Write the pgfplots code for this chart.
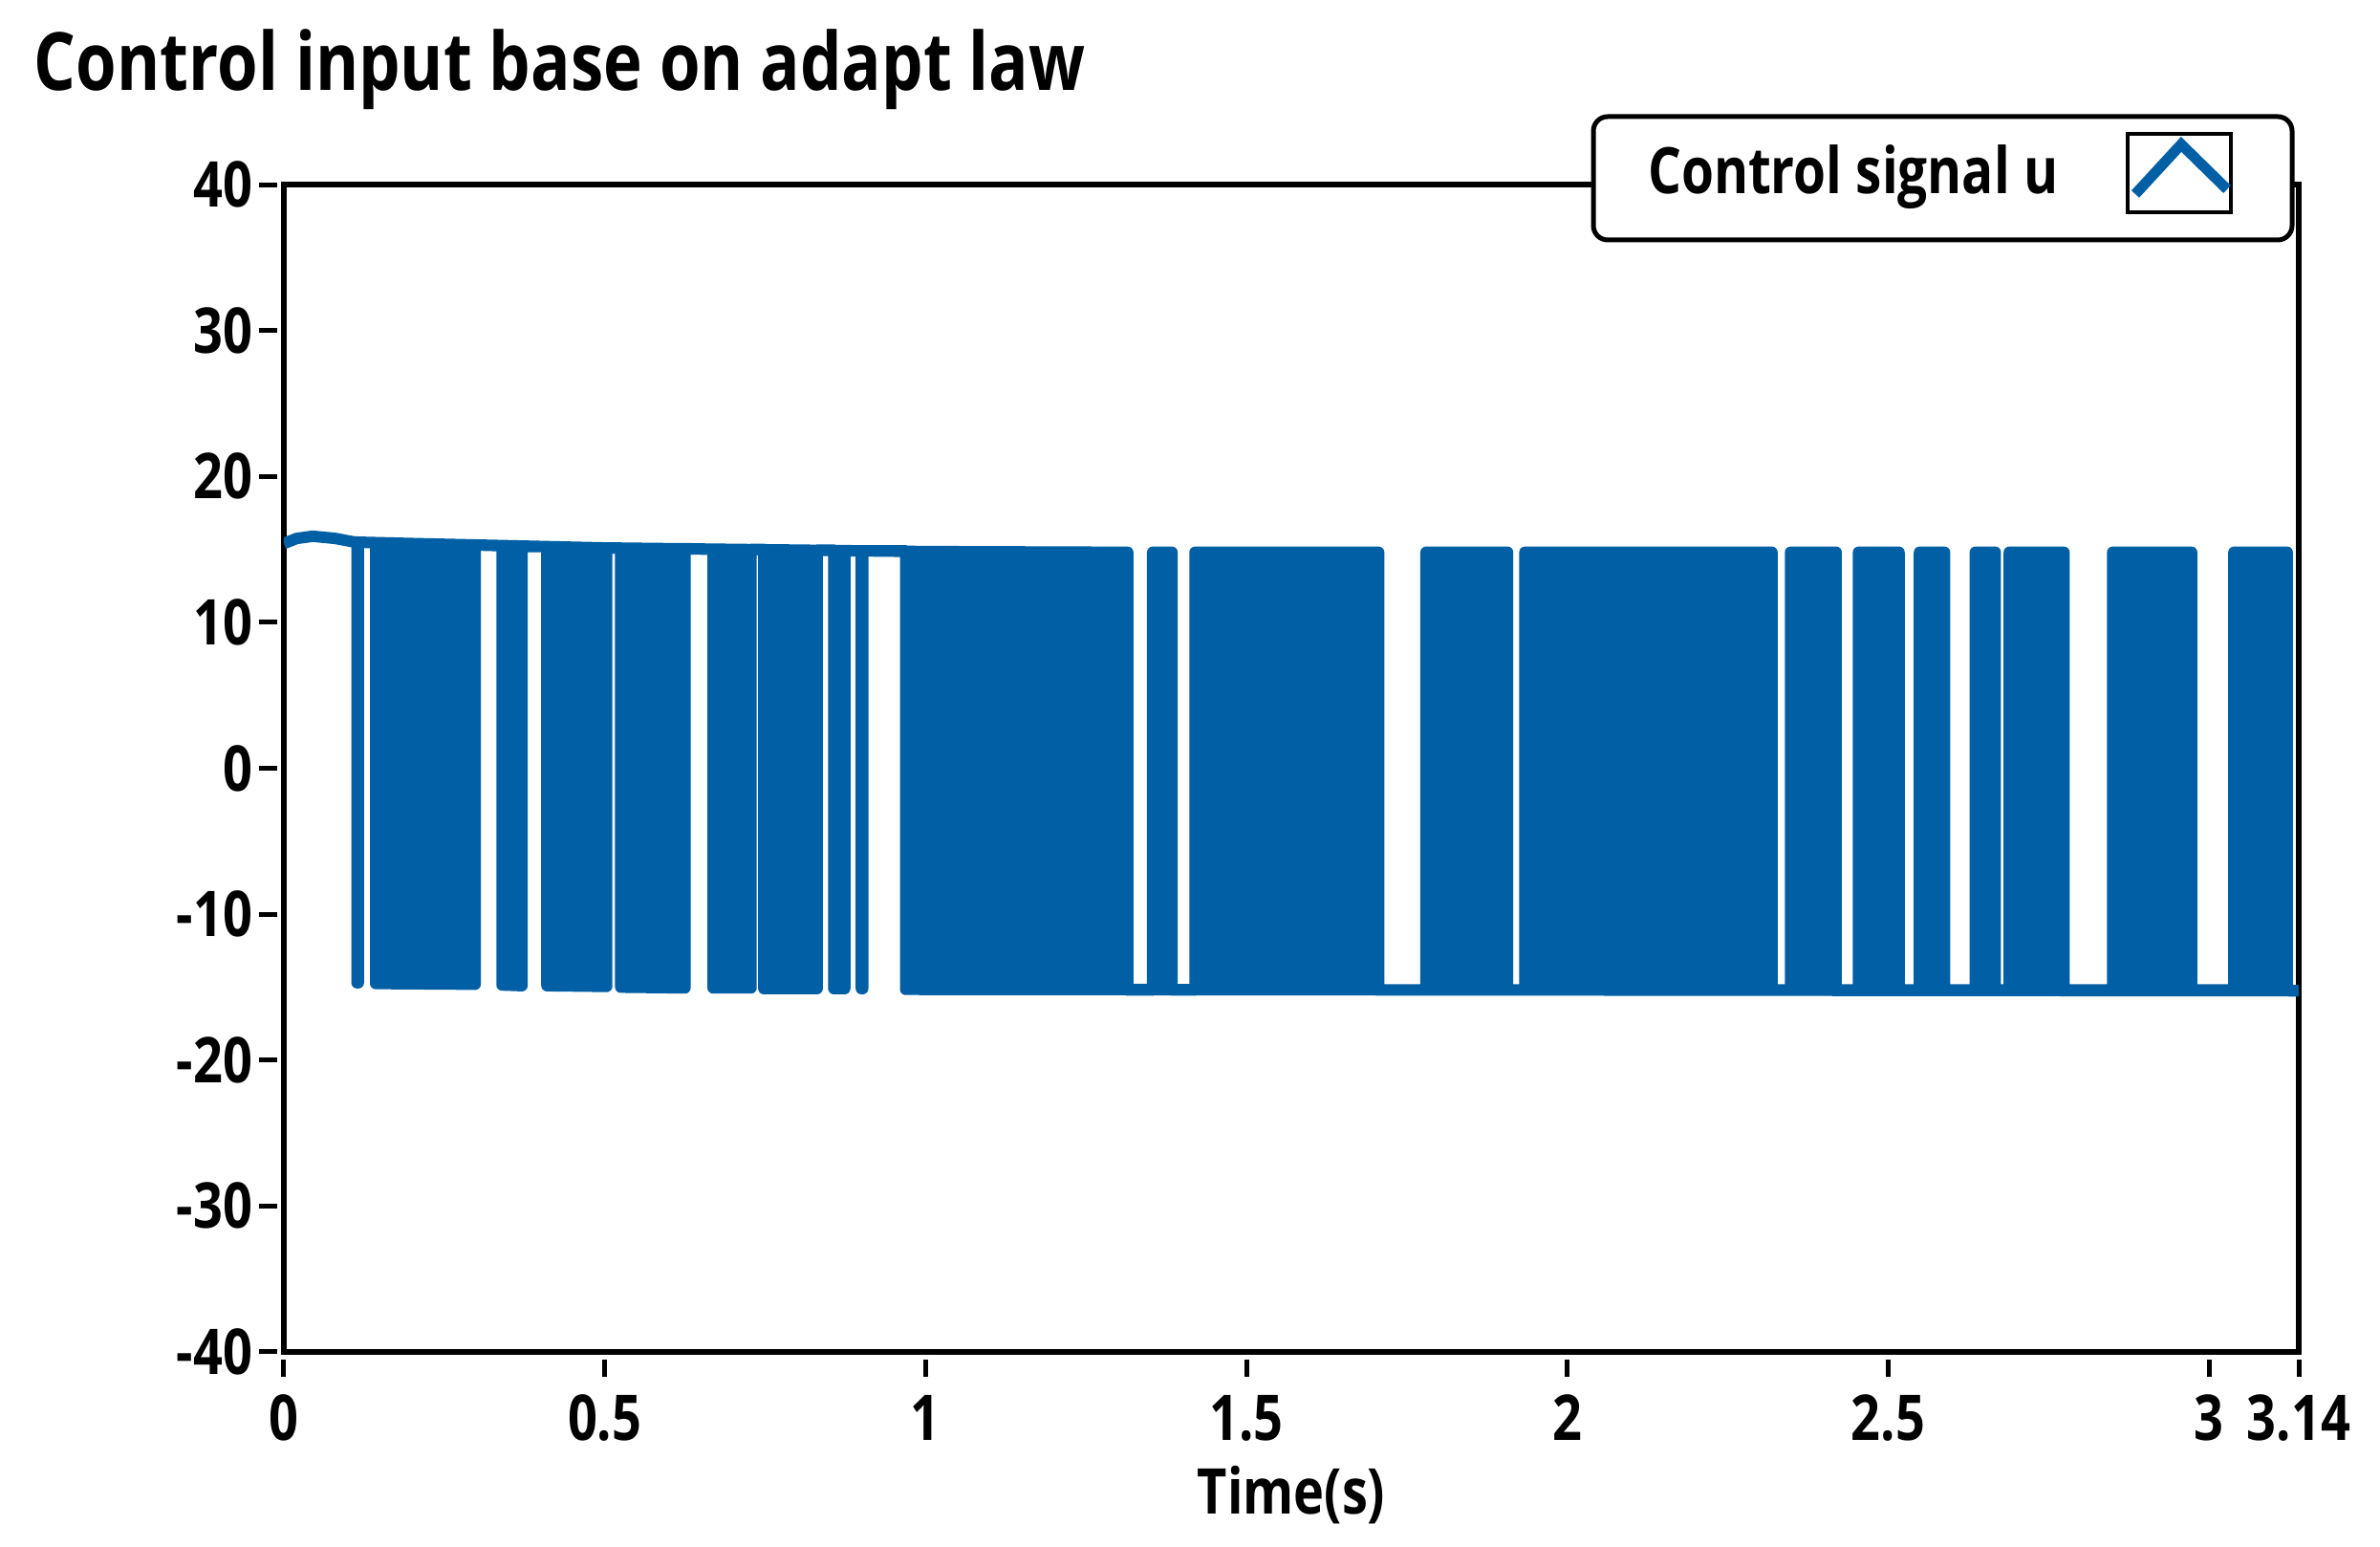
\documentclass[border=0pt]{standalone}
\usepackage{fontspec}
\setmainfont{Open Sans}[FakeStretch=0.82]
\usepackage{pgfplots}
\pgfplotsset{compat=1.18}
\definecolor{ublue}{RGB}{0,95,165}

\begin{document}
\begin{tikzpicture}
\begin{axis}[
  scale only axis, width=421.6pt, height=244.2pt,
  at={(0,0)}, anchor=south west,
  xmin=0, xmax=3.14, ymin=-40, ymax=40,
  xtick={0,0.5,1,1.5,2,2.5,3,3.14},
  ytick={-40,-30,-20,-10,0,10,20,30,40},
  xtick pos=bottom, ytick pos=left,
  tick align=outside, major tick length=3.7pt,
  tick style={black, line width=1pt},
  xtick style={yshift=-1.6pt}, ytick style={xshift=-1.4pt},
  axis line style={black, line width=1.1pt},
  /pgf/number format/assume math mode=true,
  ticklabel style={font=\fontsize{13.2}{15}\selectfont\bfseries, inner sep=0pt},
  xticklabel shift=5.1pt, yticklabel shift=2.7pt,
  xlabel={Time(s)},
  xlabel style={font=\fontsize{13.2}{15}\selectfont\bfseries,
    at={(axis description cs:0.5,0)}, anchor=base, yshift=-34pt, inner sep=0pt},
]
% upper edge left to right, then lower edge back right to left
\addplot[draw=ublue, fill=ublue, line width=2.4pt, line join=round] coordinates {
 (0,15.4) (0.02,15.75) (0.045,15.9) (0.08,15.75) (0.11,15.5) (0.2,15.4)
 (0.35,15.25) (0.5,15.1) (0.7,15.0) (1.0,14.85)
 (1.315,14.8) (1.315,-15.2) (1.354,-15.2) (1.354,14.8)
 (1.384,14.8) (1.384,-15.2) (1.420,-15.2) (1.420,14.8)
 (1.706,14.8) (1.706,-15.2) (1.780,-15.2) (1.780,14.8)
 (1.907,14.8) (1.907,-15.2) (1.934,-15.2) (1.934,14.8)
 (2.319,14.8) (2.319,-15.2) (2.348,-15.2) (2.348,14.8)
 (2.419,14.8) (2.419,-15.2) (2.454,-15.2) (2.454,14.8)
 (2.517,14.8) (2.517,-15.2) (2.549,-15.2) (2.549,14.8)
 (2.588,14.8) (2.588,-15.2) (2.636,-15.2) (2.636,14.8)
 (2.667,14.8) (2.667,-15.2) (2.689,-15.2) (2.689,14.8)
 (2.774,14.8) (2.774,-15.2) (2.850,-15.2) (2.850,14.8)
 (2.973,14.8) (2.973,-15.2) (3.039,-15.2) (3.039,14.8)
 (3.122,14.8) (3.122,-15.2) (3.14,-15.25)
 (0.969,-15.15) (0.969,14.9) (0.902,14.9) (0.902,-15.1) (0.900,-15.1) (0.900,14.9)
 (0.874,14.9) (0.874,-15.1) (0.857,-15.1) (0.857,14.95) (0.831,14.95) (0.831,-15.1)
 (0.748,-15.1) (0.748,15.0) (0.728,15.0) (0.728,-15.05) (0.669,-15.05) (0.669,15.0)
 (0.625,15.05) (0.625,-15.05) (0.525,-15.0) (0.525,15.1) (0.503,15.1) (0.503,-14.95)
 (0.410,-14.9) (0.410,15.2) (0.371,15.2) (0.371,-14.9) (0.340,-14.85) (0.340,15.25)
 (0.298,15.3) (0.298,-14.8) (0.143,-14.75) (0.143,15.45) (0.116,15.5) (0.116,-14.7)
 (0.114,-14.7) (0.114,15.5) (0.11,15.5) (0.08,15.75) (0.045,15.9) (0.02,15.75) (0,15.4)
};
\end{axis}

% title
\node[anchor=base west, inner sep=0pt, font=\fontsize{16.8}{20}\selectfont\bfseries]
  at (-52.4pt,263.8pt) {Control input base on adapt law};

% legend
\draw[black, line width=1pt, fill=white, rounded corners=3pt]
  (274pt,232.6pt) rectangle (420.2pt,258.4pt);
\node[anchor=base west, inner sep=0pt, font=\fontsize{13.4}{16}\selectfont\bfseries]
  at (285.2pt,242.2pt) {Control signal u};
\draw[black, line width=0.9pt] (385.8pt,238.4pt) rectangle (407.4pt,254.8pt);
\draw[ublue, line width=2.2pt] (387.4pt,242.2pt) -- (397pt,252.6pt) -- (406.6pt,243.2pt);

\path (-59.4pt,-40.8pt) rectangle (438.6pt,282.8pt);
\end{tikzpicture}
\end{document}
